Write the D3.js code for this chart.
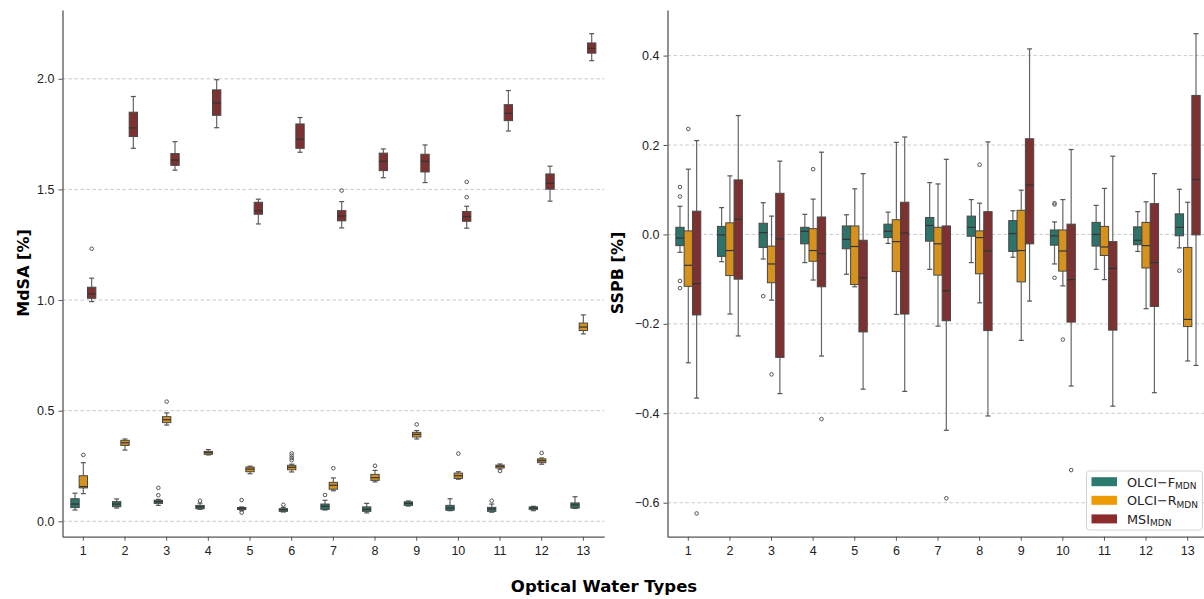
<!DOCTYPE html>
<html>
<head>
<meta charset="utf-8">
<script src="https://cdn.jsdelivr.net/npm/d3@7"></script>
<style>
  body { margin: 0; background: #fff; }
  svg { display: block; font-family: "DejaVu Sans", sans-serif; }
</style>
</head>
<body>
<svg id="chart" width="1204" height="599"></svg>
<script>
// optical water types (x categories) and the three models (hue)
const owtTypes = [1, 2, 3, 4, 5, 6, 7, 8, 9, 10, 11, 12, 13];
const modelNames = ["OLCI\u2212F", "OLCI\u2212R", "MSI"];

// box stats per OWT: [whisker low, q1, median, q3, whisker high]
const mdsaOlciF = [[0.051,0.062,0.078,0.102,0.127],[0.060,0.066,0.078,0.089,0.101],[0.072,0.081,0.089,0.095,0.099],[0.054,0.057,0.065,0.072,0.082],[0.048,0.053,0.059,0.062,0.065],[0.042,0.045,0.053,0.057,0.063],[0.051,0.054,0.068,0.078,0.095],[0.038,0.045,0.054,0.065,0.081],[0.069,0.072,0.081,0.088,0.092],[0.048,0.050,0.060,0.072,0.102],[0.041,0.045,0.056,0.063,0.078],[0.048,0.054,0.060,0.065,0.068],[0.058,0.060,0.074,0.083,0.111]];
const mdsaOlciR = [[0.125,0.151,0.157,0.206,0.265],[0.322,0.343,0.355,0.366,0.372],[0.435,0.446,0.459,0.473,0.490],[0.300,0.303,0.310,0.316,0.324],[0.215,0.224,0.236,0.245,0.249],[0.223,0.233,0.244,0.253,0.258],[0.138,0.145,0.163,0.176,0.196],[0.178,0.185,0.197,0.212,0.230],[0.372,0.381,0.393,0.402,0.410],[0.190,0.194,0.206,0.218,0.224],[0.236,0.241,0.249,0.254,0.259],[0.258,0.265,0.274,0.282,0.286],[0.847,0.862,0.878,0.896,0.933]];
const mdsaMsi = [[0.993,1.008,1.028,1.058,1.099],[1.686,1.739,1.778,1.849,1.920],[1.587,1.609,1.633,1.662,1.716],[1.779,1.835,1.891,1.950,1.996],[1.344,1.388,1.403,1.442,1.456],[1.668,1.686,1.727,1.796,1.825],[1.326,1.358,1.380,1.404,1.445],[1.553,1.585,1.627,1.664,1.683],[1.531,1.579,1.627,1.659,1.701],[1.325,1.356,1.377,1.400,1.424],[1.764,1.811,1.844,1.883,1.947],[1.447,1.501,1.528,1.570,1.605],[2.082,2.116,2.138,2.162,2.204]];

const mdsaOlciFOut = [[],[],[0.118,0.151],[0.093],[0.096,0.039],[0.075],[0.119],[],[],[],[0.093],[],[]];
const mdsaOlciROut = [[0.300],[],[0.541],[],[],[0.276,0.286,0.297,0.307],[0.240],[0.251],[0.438],[0.306],[0.227],[0.309],[]];
const mdsaMsiOut = [[1.232],[],[],[],[],[],[1.495],[],[],[1.465,1.534],[],[],[]];

const sspbOlciF = [[-0.040,-0.025,-0.008,0.016,0.063],[-0.061,-0.049,-0.001,0.018,0.060],[-0.055,-0.029,0.004,0.025,0.071],[-0.063,-0.021,0.007,0.016,0.045],[-0.089,-0.032,-0.011,0.019,0.044],[-0.020,-0.007,0.007,0.023,0.050],[-0.078,-0.015,0.020,0.038,0.116],[-0.063,-0.004,0.016,0.041,0.078],[-0.051,-0.038,0.002,0.031,0.053],[-0.066,-0.024,-0.003,0.010,0.028],[-0.078,-0.026,0.000,0.027,0.065],[-0.038,-0.023,-0.013,0.017,0.051],[-0.030,-0.003,0.016,0.046,0.101]];
const sspbOlciR = [[-0.287,-0.116,-0.069,0.008,0.146],[-0.178,-0.092,-0.036,0.026,0.131],[-0.147,-0.108,-0.066,-0.026,0.041],[-0.102,-0.060,-0.036,0.013,0.079],[-0.117,-0.112,-0.027,0.019,0.102],[-0.179,-0.083,-0.016,0.033,0.206],[-0.205,-0.091,-0.021,0.016,0.113],[-0.153,-0.088,-0.007,0.008,0.070],[-0.237,-0.106,-0.036,0.054,0.099],[-0.115,-0.082,-0.037,0.010,0.078],[-0.101,-0.047,-0.028,0.018,0.103],[-0.166,-0.075,-0.025,0.027,0.073],[-0.283,-0.206,-0.190,-0.029,0.072]];
const sspbMsi = [[-0.366,-0.180,-0.110,0.052,0.210],[-0.227,-0.100,0.034,0.122,0.266],[-0.356,-0.275,-0.010,0.092,0.164],[-0.272,-0.117,-0.043,0.039,0.184],[-0.346,-0.218,-0.097,-0.013,0.136],[-0.351,-0.178,0.003,0.072,0.218],[-0.438,-0.193,-0.126,0.019,0.168],[-0.406,-0.215,-0.037,0.051,0.207],[-0.149,-0.021,0.111,0.214,0.415],[-0.339,-0.196,-0.101,0.023,0.190],[-0.384,-0.214,-0.076,-0.016,0.175],[-0.354,-0.161,-0.063,0.069,0.136],[-0.293,-0.001,0.123,0.311,0.449]];

const sspbOlciFOut = [[0.106,0.085,-0.104,-0.120],[],[-0.138],[],[],[],[],[],[],[0.070,0.067,-0.097],[],[],[-0.081]];
const sspbOlciROut = [[0.236],[],[-0.313],[0.146],[],[],[],[0.156],[],[-0.235],[],[],[]];
const sspbMsiOut = [[-0.624],[],[],[-0.413],[],[],[-0.590],[],[],[-0.527],[],[],[]];

const mdsaTicks = [0.0, 0.5, 1.0, 1.5, 2.0];
const sspbTicks = [-0.6, -0.4, -0.2, 0.0, 0.2, 0.4];

const boxFill = ["#2e736a", "#d6921c", "#7e3131"];
const legendFill = ["#2b7a6f", "#ee9a05", "#8b2b2b"];

const svg = d3.select("#chart");

function drawPanel(cfg) {
  const x = d3.scaleBand().domain(owtTypes).range(cfg.xRange);
  const bw = x.bandwidth();
  const dodge = d3.scaleBand().domain([0, 1, 2]).range([-0.3 * bw, 0.3 * bw]);
  const boxW = dodge.bandwidth();
  const y = d3.scaleLinear().domain(cfg.yDomain).range([536.7, 10]);

  const g = svg.append("g");

  // dashed grid
  g.append("g").selectAll("line")
    .data(cfg.ticks)
    .join("line")
    .attr("x1", cfg.xRange[0]).attr("x2", cfg.xRange[1])
    .attr("y1", d => y(d)).attr("y2", d => y(d))
    .attr("stroke", "#c4c4c4")
    .attr("stroke-width", 0.9)
    .attr("stroke-dasharray", "3.5,2.5");

  // boxes
  cfg.series.forEach((stats, s) => {
    const outs = cfg.outliers[s];
    const grp = g.append("g");
    owtTypes.forEach((t, i) => {
      const st = stats[i];
      const cx = x(t) + bw / 2 + dodge(s) + boxW / 2;
      // whiskers
      grp.append("line")
        .attr("x1", cx).attr("x2", cx)
        .attr("y1", y(st[0])).attr("y2", y(st[1]))
        .attr("stroke", "#666").attr("stroke-width", 1.2);
      grp.append("line")
        .attr("x1", cx).attr("x2", cx)
        .attr("y1", y(st[3])).attr("y2", y(st[4]))
        .attr("stroke", "#666").attr("stroke-width", 1.2);
      [st[0], st[4]].forEach(v => {
        grp.append("line")
          .attr("x1", cx - boxW * 0.3).attr("x2", cx + boxW * 0.3)
          .attr("y1", y(v)).attr("y2", y(v))
          .attr("stroke", "#555").attr("stroke-width", 1.2);
      });
      grp.append("rect")
        .attr("x", cx - boxW / 2)
        .attr("y", y(st[3]))
        .attr("width", boxW)
        .attr("height", Math.max(0.5, y(st[1]) - y(st[3])))
        .attr("fill", boxFill[s])
        .attr("stroke", "#474747")
        .attr("stroke-width", 1);
      grp.append("line")
        .attr("x1", cx - boxW / 2).attr("x2", cx + boxW / 2)
        .attr("y1", y(st[2])).attr("y2", y(st[2]))
        .attr("stroke", "#333").attr("stroke-width", 1.2);
      grp.selectAll(null)
        .data(outs[i])
        .join("circle")
        .attr("cx", cx)
        .attr("cy", d => y(d))
        .attr("r", 1.8)
        .attr("fill", "none")
        .attr("stroke", "#555")
        .attr("stroke-width", 1);
    });
  });

  // axes
  const yAxis = g.append("g")
    .attr("transform", `translate(${cfg.xRange[0]},0)`)
    .call(d3.axisLeft(y).tickValues(cfg.ticks).tickFormat(d3.format(".1f")).tickSize(4).tickSizeOuter(0).tickPadding(4));
  const xAxis = g.append("g")
    .attr("transform", "translate(0,536.7)")
    .call(d3.axisBottom(x).tickSize(4).tickSizeOuter(0).tickPadding(5));
  [yAxis, xAxis].forEach(a => {
    a.select(".domain").attr("stroke", "#555").attr("stroke-width", 1.3);
    a.selectAll(".tick line").attr("stroke", "#555").attr("stroke-width", 1);
    a.selectAll(".tick text").attr("fill", "#222").style("font-size", "12.5px");
  });

  // y label
  g.append("text")
    .attr("transform", `translate(${cfg.labelX},273) rotate(-90)`)
    .attr("text-anchor", "middle")
    .attr("dy", "0.35em")
    .style("font-size", "16px")
    .style("font-weight", "bold")
    .text(cfg.label);
}

drawPanel({
  xRange: [62.5, 604.2],
  yDomain: [-0.0696, 2.311],
  ticks: mdsaTicks,
  series: [mdsaOlciF, mdsaOlciR, mdsaMsi],
  outliers: [mdsaOlciFOut, mdsaOlciROut, mdsaMsiOut],
  label: "MdSA [%]",
  labelX: 23
});

drawPanel({
  xRange: [667.5, 1208.5],
  yDomain: [-0.676, 0.502],
  ticks: sspbTicks,
  series: [sspbOlciF, sspbOlciR, sspbMsi],
  outliers: [sspbOlciFOut, sspbOlciROut, sspbMsiOut],
  label: "SSPB [%]",
  labelX: 617
});

// shared x label
svg.append("text")
  .attr("x", 604).attr("y", 592)
  .attr("text-anchor", "middle")
  .style("font-size", "16.5px")
  .style("font-weight", "bold")
  .text("Optical Water Types");

// legend
const legend = svg.append("g").attr("transform", "translate(1086.5,471)");
legend.append("rect")
  .attr("width", 116).attr("height", 59)
  .attr("rx", 3)
  .attr("fill", "#fff").attr("fill-opacity", 0.85)
  .attr("stroke", "#d4d4d4");
modelNames.forEach((name, i) => {
  const row = legend.append("g").attr("transform", `translate(0,${10.7 + i * 18.6})`);
  row.append("rect")
    .attr("x", 5).attr("y", -4.5)
    .attr("width", 25.5).attr("height", 9)
    .attr("fill", legendFill[i]);
  const txt = row.append("text")
    .attr("x", 40.5).attr("y", 4.8)
    .style("font-size", "12.8px")
    .attr("fill", "#222");
  txt.append("tspan").text(name);
  txt.append("tspan").attr("dy", 2.5).style("font-size", "9px").text("MDN");
});
</script>
</body>
</html>
